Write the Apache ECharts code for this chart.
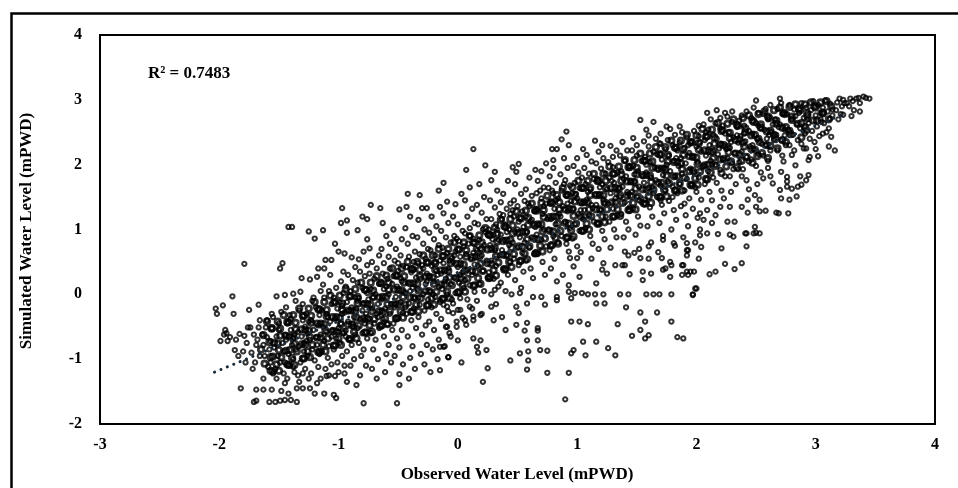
<!DOCTYPE html>
<html>
<head>
<meta charset="utf-8">
<script src="https://cdn.jsdelivr.net/npm/echarts@6/dist/echarts.min.js"></script>
<style>html,body{margin:0;padding:0;background:#fff}#c{width:958px;height:488px}</style>
</head>
<body>
<div id="c"></div>
<script>
// Axis ticks
const xTicks = [-3, -2, -1, 0, 1, 2, 3, 4];
const yTicks = [-2, -1, 0, 1, 2, 3, 4];
const r2Label = 'R² = 0.7483';
const xAxisTitle = 'Observed Water Level (mPWD)';
const yAxisTitle = 'Simulated Water Level (mPWD)';
// Linear trend line end points (observed, simulated)
const trendLine = [[-2.04, -1.20], [3.25, 2.79]];

// Observed vs simulated points, x < -1
const pointsA = [
[-2.03,-0.22],[-2.02,-0.30],[-1.97,-0.17],[-1.96,-0.62],[-1.99,-0.72],[-1.95,-0.55],
[-1.89,-0.03],[-1.88,-0.30],[-1.94,-0.60],[-1.93,-0.72],[-1.87,-0.86],[-1.86,-0.70],[-1.91,-0.66],
[-1.79,0.47],[-1.75,-0.24],[-1.83,-0.61],[-1.79,-0.64],[-1.82,-1.45],[-1.76,-0.51],[-1.80,-0.88],[-1.77,-0.75],[-1.84,-0.95],[-1.78,-1.05],
[-1.74,-0.51],[-1.67,-0.16],[-1.67,-0.51],[-1.69,-0.78],[-1.71,-0.62],[-1.73,-0.90],[-1.66,-0.95],[-1.70,-1.05],[-1.72,-1.15],[-1.69,-1.47],[-1.71,-1.66],[-1.69,-1.64],[-1.68,-0.70],[-1.66,-0.40],
[-1.61,-0.51],[-1.63,-0.78],[-1.63,-1.47],[-1.58,-1.66],[-1.56,-1.47],[-1.64,-0.62],[-1.60,-0.66],[-1.58,-0.85],[-1.62,-0.95],[-1.57,-1.05],[-1.59,-1.12],[-1.56,-0.30],[-1.60,-0.40],[-1.57,-0.72],[-1.63,-1.30],[-1.55,-1.22],
[-1.52,-0.03],[-1.55,-0.35],[-1.53,-1.66],[-1.49,-1.64],[-1.47,0.48],[-1.49,0.40],[-1.48,-0.27],[-1.45,-0.01],[-1.48,-1.49],[-1.45,-1.37],[-1.50,-0.55],[-1.52,-0.65],[-1.47,-0.75],[-1.54,-0.82],[-1.46,-0.88],[-1.51,-0.95],[-1.49,-1.05],[-1.53,-1.15],[-1.46,-1.22],[-1.50,-0.45],[-1.45,-0.62],[-1.52,-1.30],[-1.45,-1.05],
[-1.42,1.04],[-1.39,1.04],[-1.41,-0.32],[-1.38,0.01],[-1.45,-1.63],[-1.40,-1.63],[-1.42,-1.53],[-1.35,-1.45],[-1.35,-1.66],[-1.43,-0.45],[-1.40,-0.55],[-1.37,-0.62],[-1.44,-0.70],[-1.39,-0.78],[-1.36,-0.85],[-1.42,-0.92],[-1.38,-1.00],[-1.41,-1.10],[-1.37,-1.20],[-1.44,-0.20],[-1.36,-0.10],[-1.40,-0.38],[-1.38,-0.68],[-1.43,-1.30],[-1.38,-1.12],
[-1.32,0.04],[-1.30,-0.40],[-1.30,-1.45],[-1.25,0.97],[-1.33,-0.25],[-1.28,-0.50],[-1.34,-0.58],[-1.31,-0.65],[-1.27,-0.72],[-1.33,-0.80],[-1.29,-0.88],[-1.26,-0.95],[-1.32,-1.05],[-1.28,-1.15],[-1.34,-1.25],[-1.27,-0.30],[-1.30,-0.15],[-1.26,-0.60],[-1.31,0.25],[-1.29,-0.75],[-1.25,-0.42],[-1.33,-1.35],[-1.30,-1.22],[-1.25,-1.30],
[-1.24,0.23],[-1.20,0.86],[-1.18,0.27],[-1.24,-1.45],[-1.18,-1.37],[-1.20,-1.53],[-1.22,-0.10],[-1.19,-0.20],[-1.16,-0.32],[-1.23,-0.40],[-1.17,-0.48],[-1.21,-0.55],[-1.15,-0.62],[-1.24,-0.70],[-1.18,-0.78],[-1.22,-0.85],[-1.16,-0.92],[-1.20,-1.02],[-1.17,-1.12],[-1.23,-1.22],[-1.19,-0.66],[-1.15,0.05],[-1.21,-0.05],[-1.17,0.40],[-1.15,-1.30],
[-1.13,0.99],[-1.11,0.53],[-1.12,-1.53],[-1.10,-1.26],[-1.13,0.15],[-1.08,0.05],[-1.12,-0.05],[-1.06,-0.15],[-1.14,-0.25],[-1.09,-0.35],[-1.07,-0.42],[-1.13,-0.50],[-1.10,-0.58],[-1.06,-0.65],[-1.12,-0.72],[-1.08,-0.80],[-1.14,-0.88],[-1.09,-0.98],[-1.06,-1.08],[-1.11,-1.15],[-1.07,0.30],[-1.12,0.40],[-1.05,-0.55],[-1.10,-0.30],[-1.08,-1.25],
[-1.06,0.53],[-1.03,0.78],[-1.04,-1.55],[-1.02,-1.60],[-1.03,-1.26],[-1.02,0.10],[-1.04,-0.05],[-1.01,-0.22],[-1.03,-0.38],[-1.02,-0.68],[-1.04,-0.85],[-1.01,-1.05]
];

// x from -1 to 0
const pointsB = [
[-1.00,0.66],[-0.98,0.20],[-0.96,0.02],[-0.99,-0.12],[-0.97,-0.30],[-0.98,-0.45],[-1.00,-0.52],[-0.96,-0.60],[-0.99,-0.75],[-0.97,-0.95],[-0.98,1.10],[-0.96,0.35],[-1.00,-0.58],[-0.97,-0.18],[-1.00,-1.20],[-0.95,-1.10],
[-0.97,1.33],[-0.93,1.14],[-0.93,0.95],[-0.95,0.63],[-0.89,0.57],[-0.93,-1.35],[-0.95,-1.22],[-0.85,-1.40],[-0.92,0.30],[-0.88,0.22],[-0.94,0.12],[-0.90,0.05],[-0.86,-0.05],[-0.93,-0.12],[-0.89,-0.20],[-0.95,-0.28],[-0.87,-0.35],[-0.92,-0.42],[-0.88,-0.50],[-0.94,-0.56],[-0.86,-0.62],[-0.91,-0.70],[-0.89,-0.78],[-0.93,-0.88],[-0.87,-1.00],[-0.90,-1.10],[-0.86,0.42],[-0.91,-0.25],[-0.88,-0.45],[-0.94,-0.65],
[-0.84,0.99],[-0.83,0.54],[-0.79,0.66],[-0.79,-1.68],[-0.80,1.20],[-0.82,0.35],[-0.78,0.28],[-0.84,0.18],[-0.80,0.10],[-0.76,0.02],[-0.83,-0.06],[-0.79,-0.14],[-0.85,-0.22],[-0.77,-0.30],[-0.82,-0.38],[-0.78,-0.45],[-0.84,-0.52],[-0.80,-0.60],[-0.76,-0.68],[-0.83,-0.75],[-0.79,-0.85],[-0.81,-0.95],[-0.77,-1.10],[-0.82,-1.25],[-0.78,-0.40],[-0.84,-0.10],[-0.80,-0.25],[-0.76,0.45],
[-0.73,1.38],[-0.65,1.33],[-0.76,1.16],[-0.76,0.85],[-0.74,0.71],[-0.72,0.50],[-0.68,0.40],[-0.74,0.32],[-0.70,0.24],[-0.66,0.16],[-0.73,0.08],[-0.69,0.00],[-0.75,-0.08],[-0.67,-0.15],[-0.72,-0.22],[-0.68,-0.30],[-0.74,-0.38],[-0.70,-0.45],[-0.66,-0.52],[-0.73,-0.60],[-0.69,-0.70],[-0.71,-0.85],[-0.67,-1.00],[-0.72,-1.15],[-0.68,-1.30],[-0.66,0.60],[-0.71,-0.05],[-0.67,-0.35],
[-0.63,1.10],[-0.60,0.90],[-0.64,0.70],[-0.58,0.58],[-0.62,0.48],[-0.57,0.40],[-0.63,0.32],[-0.59,0.24],[-0.55,0.16],[-0.62,0.08],[-0.58,0.00],[-0.64,-0.08],[-0.56,-0.15],[-0.61,-0.22],[-0.57,-0.30],[-0.63,-0.38],[-0.59,-0.46],[-0.55,-0.55],[-0.62,-0.65],[-0.58,-0.78],[-0.60,-0.92],[-0.56,-1.05],[-0.61,-1.20],[-0.57,0.78],[-0.60,0.12],[-0.64,-0.25],
[-0.51,-1.68],[-0.49,-1.40],[-0.49,-1.23],[-0.49,1.31],[-0.54,1.00],[-0.47,0.85],[-0.52,0.70],[-0.48,0.60],[-0.53,0.52],[-0.46,0.44],[-0.50,0.36],[-0.54,0.28],[-0.47,0.20],[-0.51,0.12],[-0.45,0.04],[-0.52,-0.04],[-0.48,-0.12],[-0.53,-0.20],[-0.46,-0.28],[-0.50,-0.36],[-0.54,-0.45],[-0.47,-0.55],[-0.51,-0.68],[-0.49,-0.82],[-0.53,-0.95],[-0.46,-1.08],[-0.50,0.48],[-0.48,0.25],[-0.52,-0.15],
[-0.42,1.55],[-0.43,1.35],[-0.40,1.20],[-0.44,1.02],[-0.38,0.90],[-0.42,0.78],[-0.36,0.66],[-0.41,0.58],[-0.37,0.50],[-0.43,0.42],[-0.39,0.34],[-0.35,0.26],[-0.42,0.18],[-0.38,0.10],[-0.44,0.02],[-0.36,-0.06],[-0.41,-0.14],[-0.37,-0.22],[-0.43,-0.30],[-0.39,-0.40],[-0.35,-0.52],[-0.42,-0.65],[-0.38,-0.80],[-0.40,-0.98],[-0.36,-1.15],[-0.41,-1.30],[-0.37,0.38],[-0.40,0.05],[-0.44,-0.20],
[-0.32,1.53],[-0.30,1.33],[-0.26,1.33],[-0.33,1.15],[-0.28,1.00],[-0.34,0.88],[-0.29,0.78],[-0.25,0.70],[-0.32,0.62],[-0.27,0.55],[-0.33,0.48],[-0.29,0.40],[-0.26,0.32],[-0.31,0.24],[-0.27,0.16],[-0.34,0.08],[-0.29,0.00],[-0.25,-0.08],[-0.32,-0.16],[-0.28,-0.25],[-0.33,-0.35],[-0.27,-0.48],[-0.30,-0.62],[-0.26,-0.78],[-0.31,-0.92],[-0.28,-1.08],[-0.30,0.45],[-0.26,0.20],[-0.33,-0.05],
[-0.16,1.60],[-0.15,1.35],[-0.22,1.20],[-0.18,1.05],[-0.24,0.95],[-0.20,0.85],[-0.16,0.76],[-0.23,0.68],[-0.19,0.60],[-0.15,0.52],[-0.22,0.44],[-0.18,0.36],[-0.24,0.28],[-0.20,0.20],[-0.16,0.12],[-0.23,0.04],[-0.19,-0.04],[-0.15,-0.12],[-0.22,-0.20],[-0.18,-0.30],[-0.24,-0.42],[-0.20,-0.55],[-0.16,-0.70],[-0.21,-0.85],[-0.17,-1.00],[-0.23,-1.20],[-0.19,0.50],[-0.17,0.30],[-0.21,0.00],
[-0.12,1.72],[-0.09,1.43],[-0.12,1.25],[-0.08,1.10],[-0.14,0.98],[-0.10,0.88],[-0.06,0.80],[-0.13,0.72],[-0.09,0.64],[-0.05,0.56],[-0.12,0.48],[-0.08,0.40],[-0.14,0.32],[-0.10,0.24],[-0.06,0.16],[-0.13,0.08],[-0.09,0.00],[-0.05,-0.08],[-0.12,-0.16],[-0.08,-0.26],[-0.14,-0.38],[-0.10,-0.50],[-0.06,-0.65],[-0.08,-0.97],[-0.11,-0.80],[-0.07,0.52],[-0.11,0.20],
[-0.15,-0.09],[-0.09,-0.19],[-0.04,-0.29],[-0.09,-0.50],[-0.07,-0.60],[-0.15,-0.81],[-0.12,-0.81],[-0.15,-1.17],[-0.08,-0.97],
[-0.02,1.39],[-0.04,1.20],[-0.03,0.90],[-0.02,0.66],[-0.04,0.50],[-0.03,0.26],[-0.02,0.02],[-0.04,-0.14],[-0.01,-0.50],[-0.03,0.60],[-0.01,0.86],[-0.01,-0.42]
];

// x from 0 to 1
const pointsC = [
[0.03,1.55],[0.00,1.08],[0.04,0.98],[0.01,0.82],[0.05,0.74],[0.02,0.58],[0.00,0.42],[0.04,0.34],[0.01,0.18],[0.05,0.10],[0.02,-0.06],[0.00,-0.24],[0.04,-0.36],[0.03,-1.05],[0.00,-0.71],[0.02,0.30],[0.02,-0.24],
[0.07,1.92],[0.13,2.24],[0.10,1.65],[0.06,1.45],[0.12,1.32],[0.08,1.20],[0.14,1.10],[0.10,1.02],[0.06,0.94],[0.13,0.86],[0.09,0.78],[0.15,0.70],[0.07,0.62],[0.11,0.54],[0.14,0.46],[0.08,0.38],[0.12,0.30],[0.06,0.22],[0.10,0.14],[0.14,0.04],[0.08,-0.08],[0.12,-0.22],[0.13,-0.68],[0.06,-0.40],[0.10,0.90],[0.13,0.64],[0.10,-0.19],[0.13,-0.34],[0.07,-0.47],[0.13,-0.40],
[0.23,1.99],[0.17,-0.90],[0.16,-0.81],[0.19,-0.71],[0.24,-0.86],[0.25,-1.14],[0.21,-1.35],[0.18,1.70],[0.22,1.50],[0.16,1.38],[0.20,1.26],[0.24,1.16],[0.17,1.08],[0.21,1.00],[0.25,0.92],[0.18,0.84],[0.22,0.76],[0.16,0.68],[0.20,0.60],[0.24,0.52],[0.17,0.44],[0.21,0.36],[0.25,0.26],[0.18,0.16],[0.22,0.05],[0.16,-0.10],[0.20,-0.30],[0.23,0.96],[0.19,0.70],[0.19,-0.32],
[0.31,1.89],[0.28,1.76],[0.30,-0.40],[0.33,1.60],[0.27,1.45],[0.31,1.34],[0.35,1.24],[0.28,1.16],[0.32,1.08],[0.26,1.00],[0.30,0.92],[0.34,0.84],[0.27,0.76],[0.31,0.68],[0.35,0.60],[0.28,0.52],[0.32,0.44],[0.26,0.34],[0.30,0.24],[0.34,0.12],[0.28,0.00],[0.32,-0.15],[0.33,1.00],[0.29,0.85],[0.28,-0.19],[0.31,0.07],
[0.37,-0.35],[0.40,-0.55],[0.44,-1.02],[0.45,0.00],[0.42,1.75],[0.38,1.55],[0.36,1.42],[0.41,1.32],[0.44,1.24],[0.37,1.16],[0.40,1.08],[0.43,1.00],[0.36,0.92],[0.39,0.84],[0.43,0.76],[0.37,0.68],[0.41,0.60],[0.44,0.50],[0.38,0.40],[0.42,0.30],[0.36,0.18],[0.40,0.05],[0.41,0.96],[0.38,1.22],[0.44,1.40],
[0.46,1.96],[0.51,2.01],[0.49,1.89],[0.51,-0.29],[0.49,-0.19],[0.52,0.02],[0.49,-0.47],[0.52,-0.91],[0.48,1.70],[0.53,1.55],[0.47,1.45],[0.50,1.36],[0.54,1.28],[0.47,1.20],[0.51,1.12],[0.55,1.04],[0.48,0.96],[0.52,0.88],[0.46,0.80],[0.50,0.72],[0.54,0.64],[0.47,0.55],[0.51,0.45],[0.55,0.35],[0.48,0.22],[0.53,0.10],[0.50,1.00],[0.46,1.30],
[0.58,-0.44],[0.56,-0.56],[0.58,-0.71],[0.59,-1.02],[0.59,-0.88],[0.58,-1.16],[0.58,-0.14],[0.63,-0.04],[0.65,1.92],[0.60,1.80],[0.57,1.62],[0.62,1.52],[0.56,1.44],[0.60,1.36],[0.64,1.28],[0.57,1.20],[0.61,1.12],[0.65,1.04],[0.58,0.96],[0.62,0.88],[0.56,0.80],[0.60,0.72],[0.64,0.62],[0.57,0.52],[0.61,0.40],[0.63,0.25],[0.59,1.40],[0.62,1.15],
[0.67,-0.52],[0.67,-0.56],[0.69,-0.86],[0.67,-0.71],[0.70,-0.04],[0.73,-0.16],[0.74,2.02],[0.75,-0.87],[0.75,-1.21],[0.70,1.90],[0.67,1.75],[0.72,1.65],[0.66,1.56],[0.70,1.48],[0.74,1.40],[0.67,1.32],[0.71,1.24],[0.75,1.16],[0.68,1.08],[0.72,1.00],[0.66,0.92],[0.70,0.84],[0.74,0.74],[0.67,0.62],[0.71,0.50],[0.73,0.30],[0.69,1.60],[0.72,1.36],
[0.79,2.24],[0.83,2.24],[0.80,2.07],[0.83,-0.04],[0.83,-0.09],[0.80,1.95],[0.77,1.82],[0.82,1.72],[0.76,1.64],[0.80,1.56],[0.84,1.48],[0.77,1.40],[0.81,1.32],[0.85,1.24],[0.78,1.16],[0.82,1.08],[0.76,1.00],[0.80,0.90],[0.84,0.80],[0.77,0.68],[0.81,0.55],[0.78,0.40],[0.83,0.20],[0.79,1.60],[0.82,1.45],
[0.91,2.51],[0.87,2.39],[0.93,2.30],[0.94,0.56],[0.88,0.30],[0.93,0.14],[0.93,0.04],[0.95,-0.06],[0.95,-0.42],[0.97,-0.86],[0.95,-0.91],[0.93,-1.21],[0.90,-1.62],[0.89,2.10],[0.92,1.95],[0.86,1.85],[0.90,1.76],[0.94,1.68],[0.87,1.60],[0.91,1.52],[0.95,1.44],[0.88,1.36],[0.92,1.28],[0.86,1.20],[0.90,1.12],[0.94,1.02],[0.87,0.90],[0.91,0.78],[0.93,0.66],[0.89,1.70],[0.92,1.40],
[0.97,0.43],[1.00,0.56],[0.98,0.02],[0.97,1.98],[0.98,1.72],[0.96,1.56],[0.97,1.32],[0.98,1.08],[0.96,0.86],[1.00,0.74],[0.99,1.55],[1.00,2.10],[1.00,1.48]
];

// x from 1 to 2
const pointsD = [
[1.02,-0.42],[1.05,2.24],[1.02,0.27],[1.04,0.02],[1.05,-0.73],[1.01,1.88],[1.04,1.80],[1.02,1.64],[1.04,1.40],[1.01,1.24],[1.05,1.16],[1.02,0.98],[1.03,0.65],[1.03,1.30],[1.07,-0.94],
[1.09,-0.46],[1.09,0.00],[1.15,2.37],[1.15,0.00],[1.16,0.17],[1.16,-0.14],[1.16,-0.73],[1.08,2.15],[1.12,2.05],[1.06,1.95],[1.10,1.86],[1.14,1.78],[1.07,1.70],[1.11,1.62],[1.15,1.54],[1.08,1.46],[1.12,1.38],[1.06,1.30],[1.10,1.22],[1.14,1.12],[1.07,1.02],[1.11,0.90],[1.13,0.78],[1.09,1.58],[1.13,1.33],[1.12,0.55],
[1.21,2.30],[1.22,0.00],[1.25,0.32],[1.23,-0.14],[1.18,2.20],[1.22,2.10],[1.16,2.02],[1.20,1.94],[1.24,1.86],[1.17,1.78],[1.21,1.70],[1.25,1.62],[1.18,1.54],[1.22,1.46],[1.16,1.38],[1.20,1.30],[1.24,1.20],[1.17,1.10],[1.21,0.98],[1.23,0.85],[1.19,1.65],[1.23,1.40],[1.18,0.70],[1.22,0.48],[1.21,0.38],
[1.28,2.29],[1.33,2.22],[1.26,-0.83],[1.32,-0.94],[1.34,-0.46],[1.36,0.00],[1.30,2.12],[1.26,2.04],[1.30,1.96],[1.34,1.88],[1.27,1.80],[1.31,1.72],[1.35,1.64],[1.28,1.56],[1.32,1.48],[1.26,1.40],[1.30,1.32],[1.34,1.22],[1.27,1.12],[1.31,1.00],[1.33,0.88],[1.29,1.75],[1.33,1.55],[1.28,0.72],[1.32,0.45],
[1.43,0.00],[1.41,-0.20],[1.38,2.35],[1.42,2.22],[1.36,2.14],[1.40,2.06],[1.44,1.98],[1.37,1.90],[1.41,1.82],[1.45,1.74],[1.38,1.66],[1.42,1.58],[1.36,1.50],[1.40,1.42],[1.44,1.34],[1.37,1.24],[1.41,1.12],[1.43,1.00],[1.39,0.88],[1.43,0.60],[1.39,1.78],[1.43,1.55],[1.38,0.45],[1.40,0.66],[1.40,0.45],[1.44,0.31],
[1.47,2.41],[1.53,2.69],[1.53,-0.28],[1.53,-0.55],[1.46,-0.64],[1.50,2.30],[1.46,2.22],[1.50,2.14],[1.54,2.06],[1.47,1.98],[1.51,1.90],[1.55,1.82],[1.48,1.74],[1.52,1.66],[1.46,1.58],[1.50,1.50],[1.54,1.42],[1.47,1.32],[1.51,1.20],[1.53,1.06],[1.49,0.92],[1.52,0.70],[1.48,1.85],[1.52,1.45],[1.55,0.35],[1.48,0.64],[1.53,0.56],[1.55,0.22],
[1.58,2.54],[1.64,2.66],[1.58,0.00],[1.64,0.00],[1.57,-0.42],[1.57,-0.68],[1.60,-0.63],[1.60,2.45],[1.56,2.36],[1.60,2.28],[1.64,2.20],[1.57,2.12],[1.61,2.04],[1.65,1.96],[1.58,1.88],[1.62,1.80],[1.56,1.72],[1.60,1.64],[1.64,1.56],[1.57,1.46],[1.61,1.34],[1.63,1.20],[1.59,1.05],[1.62,0.80],[1.58,2.00],[1.63,1.65],[1.60,0.55],[1.60,0.74],[1.62,0.32],
[1.69,2.33],[1.75,2.59],[1.69,0.00],[1.67,-0.28],[1.70,2.48],[1.66,2.40],[1.70,2.32],[1.74,2.24],[1.67,2.16],[1.71,2.08],[1.75,2.00],[1.68,1.92],[1.72,1.84],[1.66,1.76],[1.70,1.68],[1.74,1.60],[1.67,1.50],[1.71,1.38],[1.73,1.25],[1.69,1.10],[1.72,0.90],[1.68,0.65],[1.73,1.95],[1.70,1.45],[1.74,0.40],[1.72,0.84],[1.71,0.56],[1.72,0.38],
[1.79,0.00],[1.79,-0.42],[1.78,2.55],[1.82,2.46],[1.76,2.38],[1.80,2.30],[1.84,2.22],[1.77,2.14],[1.81,2.06],[1.85,1.98],[1.78,1.90],[1.82,1.82],[1.76,1.74],[1.80,1.66],[1.84,1.56],[1.77,1.44],[1.81,1.30],[1.83,1.15],[1.79,1.00],[1.82,0.75],[1.78,0.50],[1.83,2.10],[1.80,1.50],[1.84,-0.66],[1.81,0.79],[1.79,0.45],[1.78,0.27],
[1.86,2.59],[1.89,-0.68],[1.88,2.50],[1.92,2.42],[1.86,2.34],[1.90,2.26],[1.94,2.18],[1.87,2.10],[1.91,2.02],[1.95,1.94],[1.88,1.86],[1.92,1.78],[1.86,1.70],[1.90,1.60],[1.94,1.48],[1.87,1.36],[1.91,1.22],[1.93,1.05],[1.89,0.88],[1.92,0.60],[1.88,0.30],[1.93,2.30],[1.90,1.40],[1.92,0.79],[1.93,0.68],[1.88,0.45],[1.92,0.35],[1.93,0.30],[1.92,0.68],[1.89,0.45],[1.95,0.35],
[1.97,0.00],[2.00,0.09],[1.98,2.52],[1.96,2.36],[2.00,2.28],[1.97,2.12],[1.98,1.88],[1.96,1.70],[2.00,1.58],[1.97,1.32],[1.99,0.80],[1.98,0.35],[1.99,1.65],[1.99,0.09],[1.97,-0.01]
];

// x from 2 to 3.5
const pointsE = [
[2.02,2.60],[2.02,2.44],[2.04,2.20],[2.01,2.04],[2.05,1.96],[2.02,1.80],[2.04,1.46],[2.01,1.18],[2.03,1.00],[2.02,0.55],[2.03,2.35],[2.04,0.73],[2.03,0.91],[2.03,1.25],
[2.09,2.80],[2.12,2.70],[2.06,2.62],[2.10,2.54],[2.14,2.46],[2.07,2.38],[2.11,2.30],[2.15,2.22],[2.08,2.14],[2.12,2.06],[2.06,1.98],[2.10,1.90],[2.14,1.80],[2.07,1.70],[2.11,1.58],[2.13,1.45],[2.09,1.30],[2.13,1.10],[2.06,1.15],[2.11,0.31],[2.09,0.94],[2.08,2.50],[2.13,2.00],
[2.17,2.84],[2.24,2.80],[2.20,2.72],[2.16,2.64],[2.20,2.56],[2.24,2.48],[2.17,2.40],[2.21,2.32],[2.25,2.24],[2.18,2.16],[2.22,2.08],[2.16,2.00],[2.20,1.92],[2.24,1.82],[2.17,1.72],[2.21,1.60],[2.23,1.48],[2.16,1.22],[2.20,1.35],[2.18,0.93],[2.21,0.71],[2.24,0.47],[2.16,0.35],[2.22,2.60],[2.19,2.25],
[2.30,2.82],[2.26,2.74],[2.30,2.66],[2.34,2.58],[2.27,2.50],[2.31,2.42],[2.35,2.34],[2.28,2.26],[2.32,2.18],[2.26,2.10],[2.30,2.02],[2.31,1.93],[2.35,1.93],[2.28,1.82],[2.33,1.70],[2.29,1.58],[2.28,1.35],[2.26,1.12],[2.32,1.12],[2.28,0.92],[2.31,0.89],[2.32,0.39],[2.34,2.45],[2.29,2.35],
[2.42,2.82],[2.38,2.76],[2.36,2.68],[2.40,2.60],[2.44,2.52],[2.37,2.44],[2.41,2.36],[2.45,2.28],[2.38,2.20],[2.42,2.12],[2.36,2.04],[2.39,1.93],[2.38,1.82],[2.42,1.76],[2.44,1.62],[2.43,1.46],[2.38,1.35],[2.43,1.26],[2.41,0.94],[2.42,0.94],[2.42,0.74],[2.38,0.48],[2.40,2.48],[2.44,2.05],
[2.50,2.99],[2.48,2.88],[2.52,2.80],[2.46,2.72],[2.50,2.64],[2.54,2.56],[2.47,2.48],[2.51,2.40],[2.55,2.32],[2.48,2.24],[2.52,2.16],[2.46,2.08],[2.50,1.98],[2.54,1.88],[2.49,1.53],[2.53,1.46],[2.50,1.35],[2.53,1.28],[2.49,1.04],[2.53,0.94],[2.48,0.94],[2.50,0.95],[2.52,2.60],[2.47,2.30],[2.51,1.70],
[2.62,2.92],[2.58,2.86],[2.56,2.78],[2.60,2.70],[2.64,2.62],[2.57,2.54],[2.61,2.46],[2.65,2.38],[2.58,2.30],[2.62,2.22],[2.56,2.14],[2.60,2.06],[2.56,1.79],[2.62,1.82],[2.64,1.71],[2.58,1.29],[2.60,1.95],[2.63,2.50],[2.59,2.40],
[2.70,3.02],[2.71,2.95],[2.68,2.86],[2.72,2.78],[2.66,2.70],[2.70,2.62],[2.74,2.54],[2.67,2.46],[2.71,2.38],[2.75,2.30],[2.68,2.22],[2.72,2.14],[2.71,1.89],[2.70,1.61],[2.71,1.48],[2.67,1.26],[2.69,1.25],[2.73,2.05],[2.69,2.58],[2.74,2.45],
[2.78,2.92],[2.82,2.85],[2.76,2.78],[2.80,2.70],[2.84,2.62],[2.77,2.54],[2.81,2.46],[2.85,2.38],[2.78,2.30],[2.82,2.22],[2.83,1.99],[2.76,1.81],[2.76,1.74],[2.76,1.66],[2.80,1.63],[2.84,1.51],[2.78,1.46],[2.77,1.25],[2.80,2.15],[2.83,2.75],
[2.88,2.95],[2.92,2.88],[2.86,2.80],[2.90,2.72],[2.94,2.64],[2.87,2.56],[2.91,2.48],[2.95,2.40],[2.88,2.32],[2.90,2.25],[2.92,2.25],[2.95,2.12],[2.94,2.07],[2.87,1.82],[2.94,1.84],[2.92,1.76],[2.88,1.69],[2.85,1.66],[2.93,2.70],
[2.98,2.98],[3.02,2.92],[2.96,2.84],[3.00,2.76],[3.04,2.70],[3.05,2.66],[3.01,2.59],[2.97,2.52],[3.03,2.44],[3.06,2.48],[3.00,2.24],[3.02,2.13],[2.99,2.35],[3.04,2.80],
[3.08,2.99],[3.12,2.94],[3.06,2.88],[3.10,2.82],[3.14,2.76],[3.12,2.71],[3.07,2.64],[3.11,2.56],[3.13,2.43],[3.11,2.28],[3.09,2.50],[3.14,2.85],
[3.16,2.22],[3.18,2.96],[3.22,2.90],[3.17,2.84],[3.21,2.78],[3.23,3.00],[3.23,2.77],[3.19,2.70],[3.24,2.95],[3.20,3.02],
[3.29,3.02],[3.34,3.02],[3.40,3.05],[3.45,3.02],[3.26,2.95],[3.37,2.95],[3.32,2.84],[3.30,2.75],[3.37,2.82],[3.31,2.98],[3.42,3.03],[3.36,3.03],[3.28,2.90]
];

// Densest core of the cloud along the trend (first layer)
const bandCore = [
[-1.60,-0.42],[-1.56,-0.52],[-1.63,-0.63],[-1.58,-0.74],[-1.65,-0.85],[-1.55,-0.96],[-1.62,-1.07],[-1.57,-1.18],
[-1.46,-0.32],[-1.42,-0.43],[-1.49,-0.53],[-1.44,-0.64],[-1.51,-0.76],[-1.41,-0.86],[-1.48,-0.97],[-1.43,-1.08],[-1.50,-1.18],
[-1.33,-0.22],[-1.29,-0.33],[-1.36,-0.44],[-1.31,-0.54],[-1.38,-0.66],[-1.28,-0.77],[-1.35,-0.88],[-1.30,-0.99],[-1.37,-1.09],
[-1.20,-0.12],[-1.16,-0.23],[-1.23,-0.33],[-1.18,-0.45],[-1.25,-0.56],[-1.15,-0.67],[-1.22,-0.78],[-1.17,-0.89],[-1.24,-0.97],
[-1.07,-0.02],[-1.03,-0.12],[-1.10,-0.24],[-1.05,-0.35],[-1.12,-0.46],[-1.02,-0.57],[-1.09,-0.68],[-1.04,-0.79],[-1.11,-0.88],
[-0.94,0.08],[-0.90,-0.03],[-0.97,-0.14],[-0.92,-0.25],[-0.99,-0.36],[-0.89,-0.47],[-0.96,-0.58],[-0.91,-0.69],[-0.98,-0.78],
[-0.81,0.18],[-0.77,0.07],[-0.84,-0.04],[-0.79,-0.15],[-0.86,-0.26],[-0.76,-0.37],[-0.83,-0.48],[-0.78,-0.59],[-0.85,-0.68],
[-0.68,0.28],[-0.64,0.17],[-0.71,0.06],[-0.66,-0.05],[-0.73,-0.16],[-0.63,-0.27],[-0.70,-0.38],[-0.65,-0.49],[-0.72,-0.58],
[-0.55,0.40],[-0.51,0.29],[-0.58,0.18],[-0.53,0.07],[-0.60,-0.04],[-0.50,-0.15],[-0.57,-0.26],[-0.52,-0.37],[-0.59,-0.46],
[-0.42,0.50],[-0.38,0.39],[-0.45,0.28],[-0.40,0.17],[-0.47,0.06],[-0.37,-0.05],[-0.44,-0.16],[-0.39,-0.27],[-0.46,-0.36],
[-0.29,0.60],[-0.25,0.49],[-0.32,0.38],[-0.27,0.27],[-0.34,0.16],[-0.24,0.05],[-0.31,-0.06],[-0.26,-0.17],[-0.33,-0.26],
[-0.16,0.70],[-0.12,0.59],[-0.19,0.48],[-0.14,0.37],[-0.21,0.26],[-0.11,0.15],[-0.18,0.04],[-0.13,-0.07],[-0.20,-0.16],
[-0.03,0.80],[0.01,0.69],[-0.06,0.58],[-0.01,0.47],[-0.08,0.36],[0.02,0.25],[-0.05,0.14],[0.00,0.03],[-0.07,-0.06],
[0.10,0.90],[0.14,0.79],[0.07,0.68],[0.12,0.57],[0.05,0.46],[0.15,0.35],[0.08,0.24],[0.13,0.13],[0.06,0.04],
[0.23,1.02],[0.27,0.91],[0.20,0.80],[0.25,0.69],[0.18,0.58],[0.28,0.47],[0.21,0.36],[0.26,0.25],[0.19,0.16],
[0.36,1.15],[0.40,1.04],[0.33,0.93],[0.38,0.82],[0.31,0.71],[0.41,0.60],[0.34,0.49],[0.39,0.38],[0.32,0.29],
[0.49,1.28],[0.53,1.17],[0.46,1.06],[0.51,0.95],[0.44,0.84],[0.54,0.73],[0.47,0.62],[0.52,0.51],[0.45,0.42],
[0.62,1.40],[0.66,1.29],[0.59,1.18],[0.64,1.07],[0.57,0.96],[0.67,0.85],[0.60,0.74],[0.65,0.63],[0.58,0.54],
[0.75,1.52],[0.79,1.41],[0.72,1.30],[0.77,1.19],[0.70,1.08],[0.80,0.97],[0.73,0.86],[0.78,0.75],[0.71,0.66],
[0.88,1.64],[0.92,1.53],[0.85,1.42],[0.90,1.31],[0.83,1.20],[0.93,1.09],[0.86,0.98],[0.91,0.87],[0.84,0.78],
[1.01,1.75],[1.05,1.64],[0.98,1.53],[1.03,1.42],[0.96,1.31],[1.06,1.20],[0.99,1.09],[1.04,0.98],[0.97,0.89],
[1.14,1.86],[1.18,1.75],[1.11,1.64],[1.16,1.53],[1.09,1.42],[1.19,1.31],[1.12,1.20],[1.17,1.09],[1.10,1.00],
[1.27,1.97],[1.31,1.86],[1.24,1.75],[1.29,1.64],[1.22,1.53],[1.32,1.42],[1.25,1.31],[1.30,1.20],[1.23,1.11],
[1.40,2.07],[1.44,1.96],[1.37,1.85],[1.42,1.74],[1.35,1.63],[1.45,1.52],[1.38,1.41],[1.43,1.30],[1.36,1.21],
[1.53,2.17],[1.57,2.06],[1.50,1.95],[1.55,1.84],[1.48,1.73],[1.58,1.62],[1.51,1.51],[1.56,1.40],[1.49,1.31],
[1.66,2.27],[1.70,2.16],[1.63,2.05],[1.68,1.94],[1.61,1.83],[1.71,1.72],[1.64,1.61],[1.69,1.50],[1.62,1.41],
[1.79,2.37],[1.83,2.26],[1.76,2.15],[1.81,2.04],[1.74,1.93],[1.84,1.82],[1.77,1.71],[1.82,1.60],[1.75,1.51],
[1.92,2.46],[1.96,2.35],[1.89,2.24],[1.94,2.13],[1.87,2.02],[1.97,1.91],[1.90,1.80],[1.95,1.69],[1.88,1.60],
[2.05,2.55],[2.09,2.44],[2.02,2.33],[2.07,2.22],[2.00,2.11],[2.10,2.00],[2.03,1.89],[2.08,1.78],[2.01,1.69],
[2.18,2.64],[2.22,2.53],[2.15,2.42],[2.20,2.31],[2.13,2.20],[2.23,2.09],[2.16,1.98],[2.21,1.87],
[2.31,2.70],[2.35,2.60],[2.28,2.49],[2.33,2.38],[2.26,2.27],[2.36,2.16],[2.29,2.05],[2.34,1.96],
[2.44,2.76],[2.48,2.66],[2.41,2.56],[2.46,2.45],[2.39,2.34],[2.49,2.23],[2.42,2.12],[2.47,2.03],
[2.57,2.82],[2.61,2.72],[2.54,2.62],[2.59,2.51],[2.52,2.40],[2.62,2.29],[2.55,2.18],[2.60,2.10],
[2.70,2.88],[2.74,2.78],[2.67,2.68],[2.72,2.57],[2.65,2.46],[2.75,2.35],[2.68,2.25],
[2.83,2.93],[2.87,2.84],[2.80,2.74],[2.85,2.63],[2.78,2.52],[2.88,2.42],
[2.96,2.96],[3.00,2.88],[2.93,2.79],[2.98,2.68],[2.91,2.58],
[3.09,2.98],[3.13,2.90],[3.06,2.80],[3.11,2.70]
];

// Densest core (second layer, between the first)
const bandCore2 = [
[-1.51,-0.42],[-1.56,-0.53],[-1.49,-0.64],[-1.54,-0.75],[-1.50,-0.86],[-1.57,-0.97],[-1.52,-1.08],[-1.55,-1.19],
[-1.38,-0.32],[-1.43,-0.43],[-1.36,-0.54],[-1.41,-0.65],[-1.37,-0.76],[-1.44,-0.87],[-1.39,-0.98],[-1.42,-1.09],
[-1.25,-0.22],[-1.30,-0.33],[-1.23,-0.44],[-1.28,-0.55],[-1.24,-0.66],[-1.31,-0.77],[-1.26,-0.88],[-1.29,-0.99],
[-1.12,-0.12],[-1.17,-0.23],[-1.10,-0.34],[-1.15,-0.45],[-1.11,-0.56],[-1.18,-0.67],[-1.13,-0.78],[-1.16,-0.89],
[-0.99,-0.02],[-1.04,-0.13],[-0.97,-0.24],[-1.02,-0.35],[-0.98,-0.46],[-1.05,-0.57],[-1.00,-0.68],[-1.03,-0.79],
[-0.86,0.08],[-0.91,-0.03],[-0.84,-0.14],[-0.89,-0.25],[-0.85,-0.36],[-0.92,-0.47],[-0.87,-0.58],[-0.90,-0.69],
[-0.73,0.18],[-0.78,0.07],[-0.71,-0.04],[-0.76,-0.15],[-0.72,-0.26],[-0.79,-0.37],[-0.74,-0.48],[-0.77,-0.59],
[-0.60,0.29],[-0.65,0.18],[-0.58,0.07],[-0.63,-0.04],[-0.59,-0.15],[-0.66,-0.26],[-0.61,-0.37],[-0.64,-0.48],
[-0.47,0.40],[-0.52,0.29],[-0.45,0.18],[-0.50,0.07],[-0.46,-0.04],[-0.53,-0.15],[-0.48,-0.26],[-0.51,-0.37],
[-0.34,0.50],[-0.39,0.39],[-0.32,0.28],[-0.37,0.17],[-0.33,0.06],[-0.40,-0.05],[-0.35,-0.16],[-0.38,-0.27],
[-0.21,0.60],[-0.26,0.49],[-0.19,0.38],[-0.24,0.27],[-0.20,0.16],[-0.27,0.05],[-0.22,-0.06],[-0.25,-0.17],
[-0.08,0.70],[-0.13,0.59],[-0.06,0.48],[-0.11,0.37],[-0.07,0.26],[-0.14,0.15],[-0.09,0.04],[-0.12,-0.07],
[0.05,0.80],[0.00,0.69],[0.07,0.58],[0.02,0.47],[0.06,0.36],[-0.01,0.25],[0.04,0.14],[0.01,0.03],
[0.18,0.91],[0.13,0.80],[0.20,0.69],[0.15,0.58],[0.19,0.47],[0.12,0.36],[0.17,0.25],[0.14,0.14],
[0.31,1.03],[0.26,0.92],[0.33,0.81],[0.28,0.70],[0.32,0.59],[0.25,0.48],[0.30,0.37],[0.27,0.26],
[0.44,1.16],[0.39,1.05],[0.46,0.94],[0.41,0.83],[0.45,0.72],[0.38,0.61],[0.43,0.50],[0.40,0.39],
[0.57,1.29],[0.52,1.18],[0.59,1.07],[0.54,0.96],[0.58,0.85],[0.51,0.74],[0.56,0.63],[0.53,0.52],
[0.70,1.41],[0.65,1.30],[0.72,1.19],[0.67,1.08],[0.71,0.97],[0.64,0.86],[0.69,0.75],[0.66,0.64],
[0.83,1.53],[0.78,1.42],[0.85,1.31],[0.80,1.20],[0.84,1.09],[0.77,0.98],[0.82,0.87],[0.79,0.76],
[0.96,1.65],[0.91,1.54],[0.98,1.43],[0.93,1.32],[0.97,1.21],[0.90,1.10],[0.95,0.99],[0.92,0.88],
[1.09,1.75],[1.04,1.64],[1.11,1.53],[1.06,1.42],[1.10,1.31],[1.03,1.20],[1.08,1.09],[1.05,0.98],
[1.22,1.86],[1.17,1.75],[1.24,1.64],[1.19,1.53],[1.23,1.42],[1.16,1.31],[1.21,1.20],[1.18,1.09],
[1.35,1.97],[1.30,1.86],[1.37,1.75],[1.32,1.64],[1.36,1.53],[1.29,1.42],[1.34,1.31],[1.31,1.20],
[1.48,2.07],[1.43,1.96],[1.50,1.85],[1.45,1.74],[1.49,1.63],[1.42,1.52],[1.47,1.41],[1.44,1.30],
[1.61,2.17],[1.56,2.06],[1.63,1.95],[1.58,1.84],[1.62,1.73],[1.55,1.62],[1.60,1.51],[1.57,1.40],
[1.74,2.27],[1.69,2.16],[1.76,2.05],[1.71,1.94],[1.75,1.83],[1.68,1.72],[1.73,1.61],[1.70,1.50],
[1.87,2.37],[1.82,2.26],[1.89,2.15],[1.84,2.04],[1.88,1.93],[1.81,1.82],[1.86,1.71],[1.83,1.60],
[2.00,2.45],[1.95,2.34],[2.02,2.23],[1.97,2.12],[2.01,2.01],[1.94,1.90],[1.99,1.79],[1.96,1.68],
[2.13,2.54],[2.08,2.43],[2.15,2.32],[2.10,2.21],[2.14,2.10],[2.07,1.99],[2.12,1.88],[2.09,1.77],
[2.26,2.63],[2.21,2.52],[2.28,2.41],[2.23,2.30],[2.27,2.19],[2.20,2.08],[2.25,1.97],
[2.39,2.72],[2.34,2.61],[2.41,2.50],[2.36,2.39],[2.40,2.28],[2.33,2.17],[2.38,2.06],
[2.52,2.78],[2.47,2.68],[2.54,2.57],[2.49,2.46],[2.53,2.35],[2.46,2.24],[2.51,2.13],
[2.65,2.84],[2.60,2.74],[2.67,2.63],[2.62,2.52],[2.66,2.41],[2.59,2.30],
[2.78,2.89],[2.73,2.80],[2.80,2.69],[2.75,2.58],[2.79,2.47],[2.72,2.38],
[2.91,2.93],[2.86,2.86],[2.93,2.75],[2.88,2.64],[2.92,2.53],
[3.04,2.96],[2.99,2.90],[3.06,2.79],[3.01,2.68]
];

const outerPoints = pointsA.concat(pointsB, pointsC, pointsD, pointsE);
const corePoints = bandCore.concat(bandCore2);

const chart = echarts.init(document.getElementById('c'), null, {renderer: 'canvas'});
const serif = 'Liberation Serif, Times New Roman, serif';
const tickFont = {fontFamily: serif, fontWeight: 'bold', fontSize: 16, color: '#000'};

chart.setOption({
  animation: false,
  backgroundColor: '#fff',
  grid: {left: 100, top: 35, right: 23, bottom: 64, show: true, borderColor: '#000', borderWidth: 2, backgroundColor: 'transparent'},
  xAxis: {
    type: 'value', min: xTicks[0], max: xTicks[xTicks.length - 1], interval: 1,
    axisLine: {show: false}, axisTick: {show: false}, splitLine: {show: false},
    axisLabel: Object.assign({margin: 13}, tickFont)
  },
  yAxis: {
    type: 'value', min: yTicks[0], max: yTicks[yTicks.length - 1], interval: 1,
    axisLine: {show: false}, axisTick: {show: false}, splitLine: {show: false},
    axisLabel: Object.assign({margin: 18}, tickFont)
  },
  graphic: [
    {type: 'rect', left: 9, top: 11, shape: {width: 1200, height: 1000}, style: {fill: 'none', stroke: '#000', lineWidth: 2.5}, silent: true, z: -10},
    {type: 'text', left: 148, top: 65, style: {text: r2Label, font: 'bold 17px ' + serif, fill: '#000'}},
    {type: 'text', x: 517, y: 475, style: {text: xAxisTitle, font: 'bold 17px ' + serif, fill: '#000', align: 'center', verticalAlign: 'middle'}},
    {type: 'text', x: 27, y: 231, rotation: Math.PI / 2, style: {text: yAxisTitle, font: 'bold 17px ' + serif, fill: '#000', align: 'center', verticalAlign: 'middle'}}
  ],
  series: [
    {
      type: 'scatter', data: outerPoints, symbol: 'circle', symbolSize: 4.3,
      itemStyle: {color: 'rgba(255,255,255,0)', borderColor: '#000', borderWidth: 2.0},
      large: false, progressive: 0, silent: true
    },
    {
      type: 'scatter', data: corePoints, symbol: 'circle', symbolSize: 5.4,
      itemStyle: {color: 'rgba(255,255,255,0)', borderColor: '#000', borderWidth: 2.8},
      large: false, progressive: 0, silent: true
    },
    {
      type: 'line', data: trendLine, showSymbol: false, symbol: 'none', silent: true, z: 3,
      lineStyle: {color: '#1b2a38', width: 3, type: [0.1, 6.8], cap: 'round'}
    }
  ]
});
</script>
</body>
</html>
